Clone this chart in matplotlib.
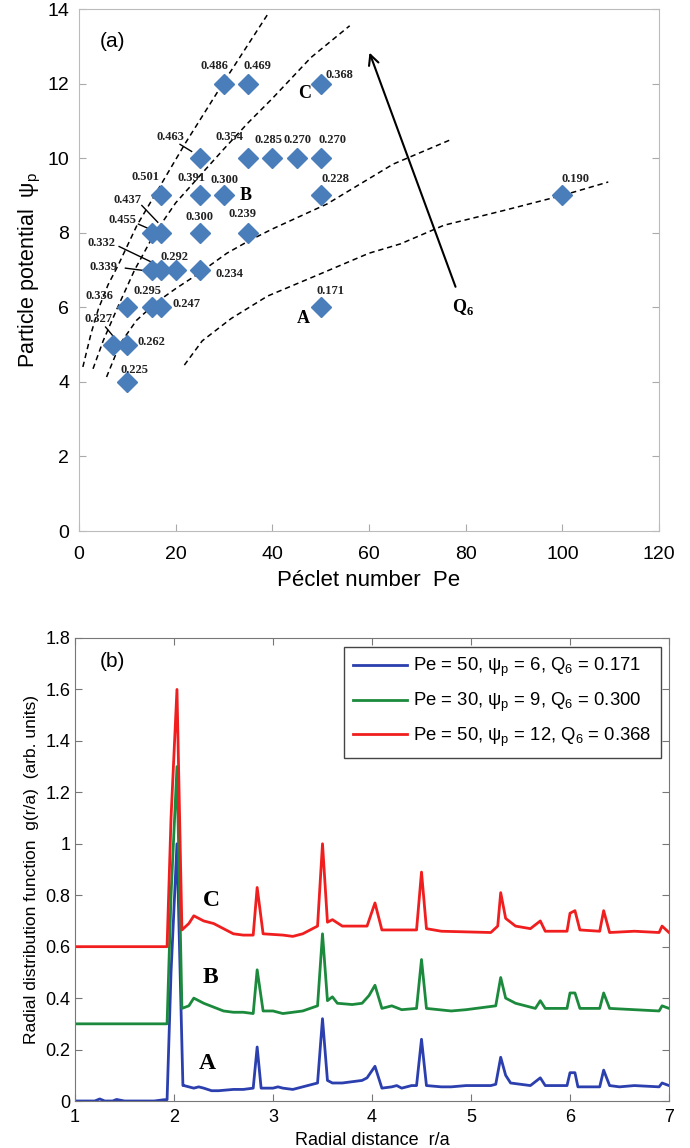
import matplotlib
matplotlib.use("Agg")
import matplotlib.pyplot as plt
import numpy as np

plt.rcParams['font.family'] = ['Liberation Sans', 'DejaVu Sans']
plt.rcParams['mathtext.fontset'] = 'custom'
plt.rcParams['mathtext.rm'] = 'Liberation Sans'
plt.rcParams['mathtext.it'] = 'Liberation Sans:italic'

# ---------------- Panel (a) data ----------------
pe = [30, 35, 50, 25, 35, 40, 45, 50, 17, 25, 30, 50, 100,
      15, 17, 25, 35, 15, 17, 20, 25, 10, 15, 17, 50, 7, 10, 10]
psi = [12, 12, 12, 10, 10, 10, 10, 10, 9, 9, 9, 9, 9,
       8, 8, 8, 8, 7, 7, 7, 7, 6, 6, 6, 6, 5, 5, 4]

q6_labels = ['0.486', '0.469', '0.368', '0.463', '0.354', '0.285', '0.270', '0.270',
             '0.501', '0.391', '0.300', '0.228', '0.190', '0.455', '0.437', '0.300',
             '0.239', '0.332', '0.339', '0.292', '0.234', '0.336', '0.295', '0.247',
             '0.171', '0.327', '0.262', '0.225']
label_x = [28.1, 36.9, 53.9, 19.0, 31.2, 39.2, 45.2, 52.4, 13.8, 23.3, 30.2, 53.0, 102.8,
           8.9, 10.1, 25.0, 33.9, 4.6, 5.05, 19.7, 31.2, 4.3, 14.2, 22.2, 52.1, 4.0, 14.9, 11.4]
label_y = [12.46, 12.46, 12.24, 10.58, 10.56, 10.49, 10.49, 10.49, 9.50, 9.48, 9.41, 9.44, 9.44,
           8.35, 8.88, 8.42, 8.49, 7.73, 7.07, 7.34, 6.89, 6.30, 6.43, 6.09, 6.43, 5.68, 5.06, 4.33]

# leader lines (label -> point)
leader_x0 = [20.9, 13.0, 12.3, 8.3, 9.6, 5.5]
leader_y0 = [10.37, 8.73, 8.23, 7.63, 7.05, 5.47]
leader_x1 = [23.3, 16.3, 14.4, 16.0, 13.2, 7.35]
leader_y1 = [10.18, 8.28, 8.11, 7.15, 6.99, 5.18]

# dashed iso-Q6 curves
c1_x = [0.8, 2.5, 4.0, 6.0, 8.0, 12.0, 17.0, 22.0, 30.0, 39.0]
c1_y = [4.4, 5.3, 5.95, 6.6, 7.1, 8.2, 9.3, 10.4, 12.05, 13.85]
c2_x = [2.9, 5.0, 8.0, 11.5, 15.5, 20.0, 25.5, 30.0, 35.0, 40.0, 48.0, 56.0]
c2_y = [4.35, 5.1, 6.0, 7.0, 7.95, 8.8, 9.6, 10.25, 10.95, 11.6, 12.7, 13.55]
c3_x = [5.7, 8.5, 11.9, 16.1, 20.0, 24.7, 30.6, 35.4, 40.0, 51.3, 65.0, 77.0]
c3_y = [4.13, 5.02, 5.65, 6.14, 6.5, 6.9, 7.45, 7.8, 8.1, 8.77, 9.84, 10.5]
c4_x = [21.8, 25.5, 31.5, 39.0, 50.0, 60.0, 66.5, 75.5, 88.0, 100.0, 109.5]
c4_y = [4.45, 5.1, 5.7, 6.3, 6.9, 7.45, 7.7, 8.2, 8.6, 9.0, 9.36]

# ---------------- Panel (b) data ----------------
rA = [1.0, 1.2, 1.25, 1.3, 1.38, 1.42, 1.5, 1.8, 1.9, 1.93, 1.97, 2.03, 2.09, 2.1, 2.2, 2.25, 2.3,
      2.38, 2.45, 2.6, 2.7, 2.8, 2.84, 2.88, 3.0, 3.05, 3.1, 3.2, 3.3, 3.35, 3.45, 3.5, 3.55,
      3.6, 3.7, 3.8, 3.9, 3.95, 4.03, 4.1, 4.2, 4.25, 4.3, 4.4, 4.45, 4.5, 4.55, 4.7, 4.8,
      4.95, 5.0, 5.2, 5.25, 5.3, 5.35, 5.4, 5.6, 5.7, 5.75, 5.97, 6.0, 6.05, 6.08, 6.3, 6.34,
      6.4, 6.5, 6.65, 6.9, 6.93, 7.0]
gA = [0.0, 0.0, 0.008, 0.0, 0.0, 0.006, 0.0, 0.0, 0.005, 0.005, 0.5, 1.0, 0.06, 0.06, 0.05,
      0.055, 0.05, 0.04, 0.04, 0.045, 0.045, 0.05, 0.21, 0.05, 0.05, 0.055, 0.05, 0.045, 0.055,
      0.06, 0.07, 0.32, 0.08, 0.07, 0.07, 0.075, 0.08, 0.09, 0.135, 0.05, 0.055, 0.06, 0.05,
      0.06, 0.06, 0.24, 0.06, 0.055, 0.055, 0.06, 0.06, 0.06, 0.065, 0.17, 0.1, 0.07, 0.06,
      0.09, 0.06, 0.06, 0.11, 0.11, 0.055, 0.055, 0.12, 0.06, 0.055, 0.06, 0.055, 0.07, 0.06]

rB = [1.0, 1.93, 1.97, 2.03, 2.08, 2.15, 2.2, 2.3, 2.4, 2.5, 2.6, 2.7, 2.8, 2.84, 2.9, 3.0,
      3.1, 3.2, 3.3, 3.45, 3.5, 3.55, 3.6, 3.65, 3.8, 3.9, 3.97, 4.03, 4.1, 4.2, 4.3, 4.45,
      4.5, 4.55, 4.8, 4.95, 5.25, 5.3, 5.35, 5.45, 5.6, 5.65, 5.7, 5.75, 5.97, 6.0, 6.05, 6.1,
      6.3, 6.34, 6.4, 6.9, 6.93, 7.0]
gB = [0.3, 0.3, 0.8, 1.3, 0.36, 0.37, 0.40, 0.38, 0.365, 0.35, 0.345, 0.345, 0.34, 0.51,
      0.35, 0.35, 0.34, 0.345, 0.35, 0.37, 0.65, 0.39, 0.405, 0.38, 0.375, 0.38, 0.41, 0.45,
      0.36, 0.37, 0.355, 0.36, 0.55, 0.36, 0.35, 0.355, 0.37, 0.48, 0.40, 0.38, 0.365, 0.36,
      0.39, 0.36, 0.36, 0.42, 0.42, 0.36, 0.36, 0.42, 0.36, 0.35, 0.37, 0.36]

rC = [1.0, 1.93, 1.97, 2.03, 2.08, 2.15, 2.2, 2.3, 2.4, 2.5, 2.6, 2.7, 2.8, 2.84, 2.9, 3.1,
      3.2, 3.3, 3.45, 3.5, 3.55, 3.6, 3.7, 3.95, 4.03, 4.1, 4.45, 4.5, 4.55, 4.7, 5.2, 5.27,
      5.3, 5.35, 5.45, 5.6, 5.7, 5.75, 5.97, 6.0, 6.05, 6.1, 6.3, 6.34, 6.4, 6.65, 6.9, 6.93,
      7.0]
gC = [0.6, 0.6, 1.1, 1.6, 0.665, 0.69, 0.72, 0.70, 0.69, 0.67, 0.65, 0.645, 0.645, 0.83,
      0.65, 0.645, 0.64, 0.65, 0.68, 1.0, 0.695, 0.705, 0.68, 0.68, 0.77, 0.665, 0.665, 0.89,
      0.67, 0.66, 0.655, 0.68, 0.81, 0.71, 0.68, 0.67, 0.70, 0.66, 0.66, 0.73, 0.74, 0.665,
      0.66, 0.74, 0.655, 0.66, 0.655, 0.68, 0.655]

legend_labels = [r'Pe = 50, ψ$_\mathregular{p}$ = 6, Q$_\mathregular{6}$ = 0.171',
                 r'Pe = 30, ψ$_\mathregular{p}$ = 9, Q$_\mathregular{6}$ = 0.300',
                 r'Pe = 50, ψ$_\mathregular{p}$ = 12, Q$_\mathregular{6}$ = 0.368']

fig = plt.figure(figsize=(6.9, 11.48), dpi=100)

# ---------------- Panel (a) ----------------
ax1 = fig.add_axes([79 / 690, 1 - 531 / 1148, 580 / 690, 522 / 1148])
for cx, cy in [(c1_x, c1_y), (c2_x, c2_y), (c3_x, c3_y), (c4_x, c4_y)]:
    ax1.plot(cx, cy, color='black', lw=1.1, ls=(0, (3.5, 2.5)))
for x0, y0, x1, y1 in zip(leader_x0, leader_y0, leader_x1, leader_y1):
    ax1.plot([x0, x1], [y0, y1], color='black', lw=1.0)
ax1.plot(pe, psi, ls='none', marker='D', ms=10, color='#4a7ebb', mec='#4a7ebb')
serif = ['Liberation Serif', 'DejaVu Serif']
for t, x, y in zip(q6_labels, label_x, label_y):
    ax1.text(x, y, t, fontsize=9, fontweight='bold', family=serif,
             ha='center', va='center', color='#222222')
ax1.text(46.4, 5.71, 'A', fontsize=13, fontweight='bold', family=serif, ha='center', va='center')
ax1.text(34.5, 9.0, 'B', fontsize=13, fontweight='bold', family=serif, ha='center', va='center')
ax1.text(46.7, 11.74, 'C', fontsize=13, fontweight='bold', family=serif, ha='center', va='center')
ax1.annotate('', xy=(59.9, 12.9), xytext=(78.1, 6.48),
             arrowprops=dict(arrowstyle='->', lw=1.5, color='black', mutation_scale=18))
ax1.text(79.5, 6.0, r'Q$_\mathregular{6}$', fontsize=13, fontweight='bold', family=serif,
         ha='center', va='center')
ax1.text(7.0, 13.14, '(a)', fontsize=15, ha='center', va='center')

ax1.set_xlim(0, 120)
ax1.set_ylim(0, 14)
ax1.set_xticks(range(0, 121, 20))
ax1.set_yticks(range(0, 15, 2))
ax1.tick_params(direction='in', length=5, labelsize=14, color='#aaaaaa',
                right=True, top=False)
ax1.tick_params(axis='x', pad=11)
ax1.tick_params(axis='y', pad=7)
for s in ax1.spines.values():
    s.set_color('#bbbbbb')
ax1.set_xlabel('Péclet number  Pe', fontsize=16, labelpad=5)
ax1.set_ylabel(r'Particle potential  ψ$_\mathregular{p}$', fontsize=15.5, labelpad=3)

# ---------------- Panel (b) ----------------
ax2 = fig.add_axes([75 / 690, 1 - 1101 / 1148, 594 / 690, 463 / 1148])
lA, = ax2.plot(rA, gA, color='#2b3fae', lw=2)
lB, = ax2.plot(rB, gB, color='#1c8a3c', lw=2)
lC, = ax2.plot(rC, gC, color='#f01e1e', lw=2)
ax2.set_xlim(1, 7)
ax2.set_ylim(0, 1.8)
ax2.set_yticks(np.arange(0, 1.81, 0.2))
ax2.set_yticklabels(['0', '0.2', '0.4', '0.6', '0.8', '1', '1.2', '1.4', '1.6', '1.8'])
ax2.tick_params(direction='in', length=5, labelsize=13, color='#777777',
                right=True, top=True)
ax2.tick_params(axis='x', pad=6)
for s in ax2.spines.values():
    s.set_color('#777777')
ax2.text(2.38, 0.78, 'C', fontsize=17, fontweight='bold', family=serif, ha='center', va='center')
ax2.text(2.37, 0.48, 'B', fontsize=17, fontweight='bold', family=serif, ha='center', va='center')
ax2.text(2.34, 0.146, 'A', fontsize=17, fontweight='bold', family=serif, ha='center', va='center')
ax2.text(1.38, 1.71, '(b)', fontsize=15, ha='center', va='center')
leg = ax2.legend([lA, lB, lC], legend_labels, loc='upper right', fontsize=13.3,
                 fancybox=False, edgecolor='#444444', framealpha=1,
                 handlelength=2.9, handletextpad=0.35, borderpad=0.5, labelspacing=0.62,
                 borderaxespad=0, bbox_to_anchor=(0.9865, 0.9806))
leg.get_frame().set_linewidth(1.0)
ax2.set_xlabel('Radial distance  r/a', fontsize=13, labelpad=4)
ax2.set_ylabel('Radial distribution function  g(r/a)  (arb. units)', fontsize=12.5, labelpad=4)

fig.savefig('out.png', dpi=100)
